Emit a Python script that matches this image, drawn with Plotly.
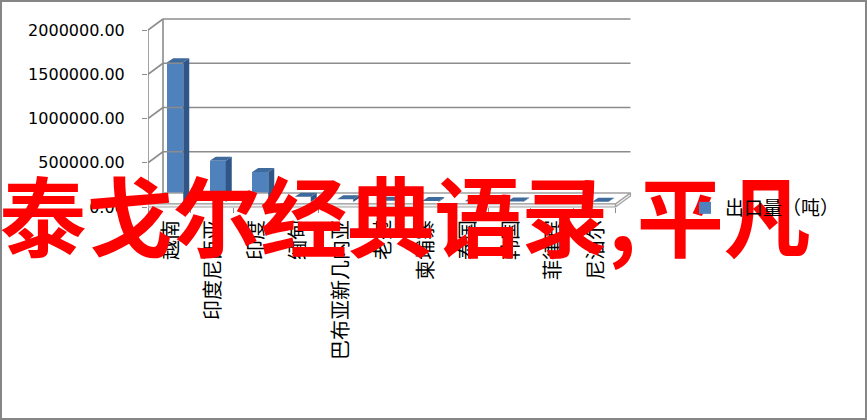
import plotly.graph_objects as go

# ---- data ----
categories = ["越南", "印度尼西亚", "印度", "缅甸", "巴布亚新几内亚", "老挝",
              "柬埔寨", "泰国", "韩国", "菲律宾", "尼泊尔"]
exports = [1580000, 465000, 340000, 60000, 30000, 15000,
           10000, 8000, 6000, 4000, 2000]
y_ticks = [0, 500000, 1000000, 1500000, 2000000]
y_tick_labels = [f"{v:.2f}" for v in y_ticks]
series_name = "出口量（吨）"
overlay_text = "泰戈尔经典语录,平凡"

# ---- geometry (pixels) ----
W, H = 867, 420
L, R, T = 148, 640, 10
Z = 207          # pixel row of the value-0 front edge
BP = 300         # bottom of plot area
PX_CAT = 42.5                  # pixels per category
PX_VAL = 177 / 2000000         # pixels per unit value
n = len(categories)
xr = (R - L) / PX_CAT
y_lo = -(BP - Z) / PX_VAL
y_hi = (Z - T) / PX_VAL
axis_pos = (BP - Z) / (BP - T)

def dxp(px):
    return px / PX_CAT

def dyp(px):
    return px / PX_VAL

WALL_DX, WALL_DY = dxp(15), dyp(11)
BAR_OX, BAR_OY = dxp(6), dyp(5)
BAR_DX, BAR_DY = dxp(6), dyp(4)
BAR_W = dxp(16)
FLOOR_T = dyp(3)

def px_to_paper(px, py):
    return (px - L) / (R - L), (BP - py) / (BP - T)

GRID = "#8C8C8C"
FRONT = "#4F81BD"
SIDE = "#2F5686"
TOP = "#3E6A9C"

fig = go.Figure()

# back wall gridlines + diagonals
gx, gy = [], []
for v in y_ticks:
    gx += [WALL_DX, n + WALL_DX, None]
    gy += [v + WALL_DY, v + WALL_DY, None]
    gx += [0, WALL_DX, None]
    gy += [v, v + WALL_DY, None]
# back wall left edge and front axis line
gx += [WALL_DX, WALL_DX, None, 0, 0, None]
gy += [WALL_DY, y_ticks[-1] + WALL_DY, None, 0, y_ticks[-1], None]
fig.add_trace(go.Scatter(x=gx, y=gy, mode="lines", line=dict(color=GRID, width=1.6),
                         hoverinfo="skip", showlegend=False))

# floor slab
fx = [0, n, n + WALL_DX, WALL_DX, 0]
fy = [FLOOR_T, FLOOR_T, FLOOR_T + WALL_DY, FLOOR_T + WALL_DY, FLOOR_T]
fig.add_trace(go.Scatter(x=fx, y=fy, mode="lines", fill="toself", fillcolor="#FFFFFF",
                         line=dict(color="#A0A0A0", width=1.4), hoverinfo="skip", showlegend=False))
fig.add_trace(go.Scatter(x=[0, n, n, 0, 0, None, n, n + WALL_DX, n + WALL_DX, n, n],
                         y=[0, 0, FLOOR_T, FLOOR_T, 0, None, 0, WALL_DY, FLOOR_T + WALL_DY, FLOOR_T, 0],
                         mode="lines", fill="toself", fillcolor="#F2F2F2",
                         line=dict(color="#A0A0A0", width=1.2), hoverinfo="skip", showlegend=False))

# bars: front faces
centers = [i + 0.5 + BAR_OX for i in range(n)]
fig.add_trace(go.Bar(x=centers, y=exports, base=[BAR_OY] * n, width=BAR_W,
                     marker=dict(color=FRONT, line=dict(width=0)), name=series_name,
                     showlegend=True))

# side and top faces
sx, sy, tx, ty = [], [], [], []
for c, v in zip(centers, exports):
    x0, x1 = c - BAR_W / 2, c + BAR_W / 2
    top = v + BAR_OY
    sx += [x1, x1, x1 + BAR_DX, x1 + BAR_DX, x1, None]
    sy += [BAR_OY, top, top + BAR_DY, BAR_OY + BAR_DY, BAR_OY, None]
    tx += [x0, x1, x1 + BAR_DX, x0 + BAR_DX, x0, None]
    ty += [top, top, top + BAR_DY, top + BAR_DY, top, None]
fig.add_trace(go.Scatter(x=sx, y=sy, mode="lines", fill="toself", fillcolor=SIDE,
                         line=dict(width=0, color=SIDE), hoverinfo="skip", showlegend=False))
fig.add_trace(go.Scatter(x=tx, y=ty, mode="lines", fill="toself", fillcolor=TOP,
                         line=dict(width=0, color=TOP), hoverinfo="skip", showlegend=False))

# invisible trace for the label axis
fig.add_trace(go.Scatter(x=[0.5], y=[0], xaxis="x2", mode="markers",
                         marker=dict(opacity=0), hoverinfo="skip", showlegend=False))

# overlay red text (as a text trace so the legend stays on top of it)
fig.add_trace(go.Scatter(x=[(405 - L) / PX_CAT], y=[(Z - 229) / PX_VAL], mode="text",
                         text=[overlay_text], textposition="middle center", cliponaxis=False,
                         textfont=dict(family="Noto Sans CJK SC", size=87, color="#FF0000",
                                       weight="bold"),
                         hoverinfo="skip", showlegend=False))

# border
bx0, by0 = px_to_paper(1, 419)
bx1, by1 = px_to_paper(866, 1)

fig.update_layout(
    width=W, height=H,
    margin=dict(l=L, r=W - R, t=T, b=H - BP, autoexpand=False),
    paper_bgcolor="white", plot_bgcolor="rgba(0,0,0,0)",
    bargap=0,
    xaxis=dict(range=[0, xr], showgrid=False, zeroline=False, showline=False,
               automargin=False, anchor="free", position=axis_pos, layer="below traces",
               tickvals=list(range(n + 1)), ticktext=[""] * (n + 1),
               ticks="outside", ticklen=5, tickcolor=GRID, tickwidth=1.4),
    xaxis2=dict(range=[0, xr], overlaying="x", anchor="free", position=axis_pos,
                side="bottom", layer="below traces",
                showgrid=False, zeroline=False, showline=False, automargin=False,
                tickvals=[i + 0.55 for i in range(n)], ticktext=categories,
                tickangle=-90, ticks="", ticklabelstandoff=8,
                tickfont=dict(family="Noto Sans CJK SC", size=20, color="#000000")),
    yaxis=dict(range=[y_lo, y_hi], showgrid=False, zeroline=False, showline=False,
               automargin=False, layer="below traces",
               tickvals=y_ticks, ticktext=y_tick_labels,
               ticks="outside", ticklen=5, tickcolor=GRID, tickwidth=1.4,
               ticklabelstandoff=14,
               tickfont=dict(family="DejaVu Sans", size=16, color="#000000")),
    legend=dict(xref="container", yref="container", x=685 / W, y=1 - 208 / H,
                xanchor="left", yanchor="middle", bgcolor="rgba(0,0,0,0)",
                font=dict(family="Noto Sans CJK SC", size=19, color="#000000"),
                itemwidth=30),
    shapes=[dict(type="rect", xref="paper", yref="paper", x0=bx0, y0=by0, x1=bx1, y1=by1,
                 line=dict(color="#868686", width=2), fillcolor="rgba(0,0,0,0)", layer="above")],
)

fig.write_html("out.html", config={"displayModeBar": False},
               post_script="document.body.style.margin='0';")
